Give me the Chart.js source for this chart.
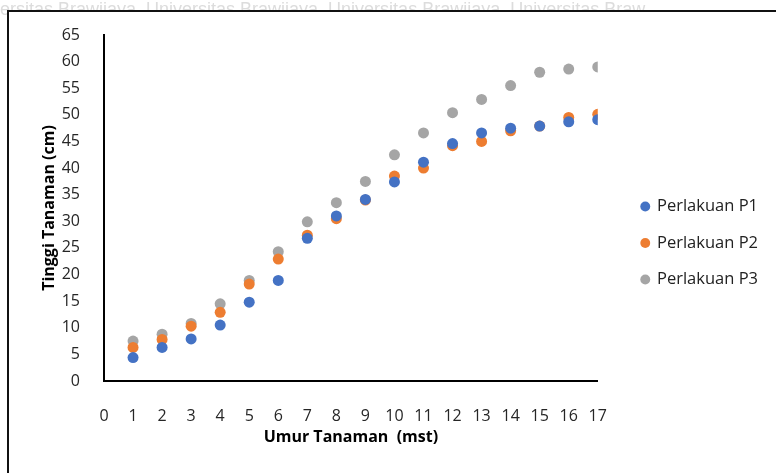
<!DOCTYPE html>
<html>
<head>
<meta charset="utf-8">
<script src="https://cdn.jsdelivr.net/npm/chart.js@4"></script>
<style>
	html, body { margin: 0; padding: 0; background: #fff; }
	.chartBox { width: 776px; height: 473px; }
</style>
</head>
<body>
<div class="chartBox"><canvas id="myChart"></canvas></div>
<script>
// umur tanaman (mst)
const weeks = [1, 2, 3, 4, 5, 6, 7, 8, 9, 10, 11, 12, 13, 14, 15, 16, 17];
// tinggi tanaman (cm)
const p1 = [4.4, 6.3, 7.9, 10.5, 14.8, 18.9, 26.8, 31.0, 34.1, 37.4, 41.1, 44.6, 46.6, 47.5, 47.9, 48.7, 49.1];
const p2 = [6.3, 7.8, 10.3, 12.9, 18.2, 22.9, 27.4, 30.5, 34.0, 38.5, 40.0, 44.2, 45.0, 47.0, 47.9, 49.5, 50.1];
const p3 = [7.5, 8.8, 10.8, 14.5, 18.9, 24.3, 29.9, 33.5, 37.5, 42.5, 46.6, 50.4, 52.9, 55.5, 58.0, 58.6, 59.0];
const yTicks = [0, 5, 10, 15, 20, 25, 30, 35, 40, 45, 50, 55, 60, 65];

const toPoints = (vals) => vals.map((v, i) => ({ x: weeks[i], y: v }));

const FONT = '"Open Sans", "Noto Sans", sans-serif';

// frame + watermark behind the chart
const framePlugin = {
	id: 'frame',
	beforeDraw(chart) {
		const ctx = chart.ctx;
		ctx.save();
		ctx.fillStyle = '#fff';
		ctx.fillRect(0, 0, chart.width, chart.height);
		ctx.fillStyle = '#dcdcdc';
		ctx.font = '18px "Liberation Sans", sans-serif';
		ctx.textBaseline = 'alphabetic';
		ctx.fillText('ersitas Brawijaya  Universitas Brawijaya  Universitas Brawijaya  Universitas Braw', 0, 15);
		ctx.fillStyle = '#fff';
		ctx.fillRect(8, 11, chart.width, chart.height);
		ctx.strokeStyle = '#111';
		ctx.lineWidth = 2;
		ctx.strokeRect(8, 11, chart.width + 10, chart.height + 10);
		ctx.restore();
	},
};

// push legend over to the right like the excel one
const legendShift = {
	id: 'legendShift',
	afterLayout(chart) {
		const lg = chart.legend;
		const dx = chart.chartArea.right + 24 - lg.left;
		lg.left += dx;
		lg.right += dx;
		lg.top -= 11;
		lg.bottom -= 11;
	},
};

const data = {
	datasets: [
		{
			label: 'Perlakuan P1',
			data: toPoints(p1),
			backgroundColor: '#4472C4',
			borderColor: '#4472C4',
			pointRadius: 5.5,
			pointBorderWidth: 0,
		},
		{
			label: 'Perlakuan P2',
			data: toPoints(p2),
			backgroundColor: '#ED7D31',
			borderColor: '#ED7D31',
			pointRadius: 5.5,
			pointBorderWidth: 0,
		},
		{
			label: 'Perlakuan P3',
			data: toPoints(p3),
			backgroundColor: '#A5A5A5',
			borderColor: '#A5A5A5',
			pointRadius: 5.5,
			pointBorderWidth: 0,
		},
	],
};

const config = {
	type: 'scatter',
	data,
	plugins: [framePlugin, legendShift],
	options: {
		responsive: false,
		animation: false,
		layout: { padding: { top: 35, left: 0, right: 32, bottom: 0 } },
		plugins: {
			tooltip: { enabled: false },
			legend: {
				position: 'right',
				labels: {
					usePointStyle: true,
					pointStyle: 'circle',
					boxWidth: 7,
					boxHeight: 7,
					padding: 20,
					color: '#222',
					font: { family: FONT, size: 16.5 },
				},
			},
		},
		scales: {
			x: {
				type: 'linear',
				min: 0,
				max: 17,
				afterFit: (s) => { s.height = 92; },
				grid: { display: false },
				border: { display: true, color: '#000', width: 2 },
				ticks: {
					stepSize: 1,
					padding: 18,
					color: '#262626',
					font: { family: FONT, size: 16 },
				},
				title: {
					display: true,
					text: 'Umur Tanaman  (mst)',
					color: '#000',
					font: { family: FONT, size: 16, weight: 'bold' },
					padding: { top: 0, bottom: 26 },
				},
			},
			y: {
				type: 'linear',
				min: 0,
				max: 65,
				afterFit: (s) => { s.width = 104; },
				afterBuildTicks: (s) => { s.ticks = yTicks.map((v) => ({ value: v })); },
				grid: { display: false },
				border: { display: true, color: '#000', width: 2 },
				ticks: {
					padding: 16,
					color: '#262626',
					font: { family: FONT, size: 16 },
				},
				title: {
					display: true,
					text: 'Tinggi Tanaman (cm)',
					color: '#000',
					font: { family: FONT, size: 16, weight: 'bold' },
					padding: { top: 40, bottom: 0 },
				},
			},
		},
	},
};

const c = document.getElementById('myChart');
c.width = 776;
c.height = 473;
const myChart = new Chart(c, config);
</script>
</body>
</html>
